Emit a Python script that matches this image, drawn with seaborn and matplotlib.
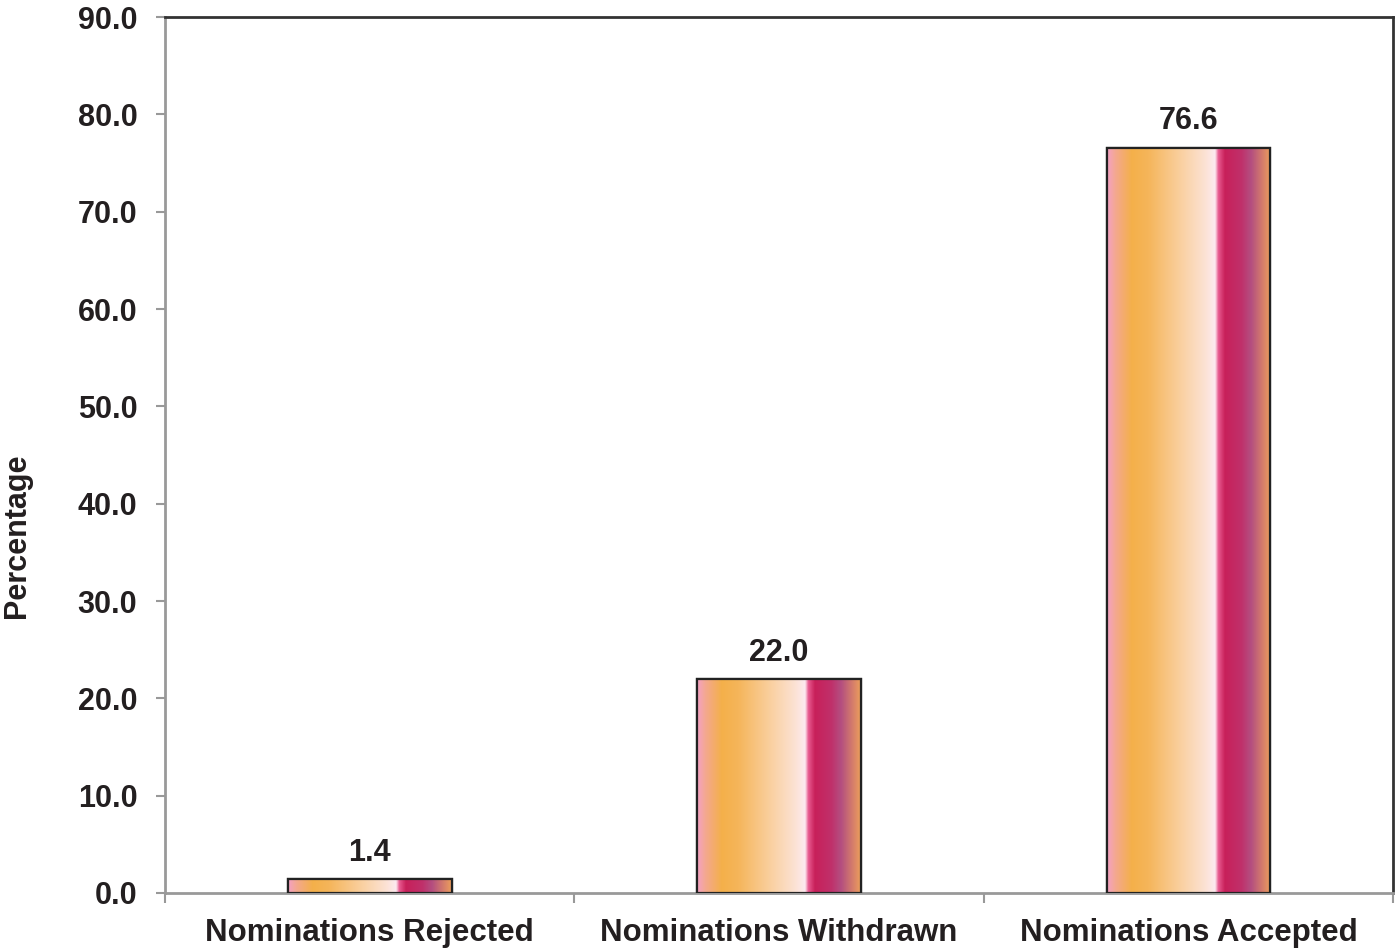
import matplotlib
matplotlib.use('Agg')
import matplotlib.pyplot as plt
import seaborn as sns
import pandas as pd
import numpy as np
from matplotlib.colors import LinearSegmentedColormap

# data
categories = ['Nominations Rejected', 'Nominations Withdrawn', 'Nominations Accepted']
values = [1.4, 22.0, 76.6]

sns.set_style('white')
plt.rcParams['font.family'] = ['Liberation Sans', 'DejaVu Sans']
plt.rcParams['font.weight'] = 'bold'

df = pd.DataFrame({'Category': categories, 'Percentage': values})

fig = plt.figure(figsize=(13.95, 9.51), dpi=100)
ax = fig.add_axes([0.1183, 0.061, 0.8803, 0.921])

sns.barplot(data=df, x='Category', y='Percentage', color='#F4B04A', width=0.4,
            edgecolor='#222222', linewidth=1.6, ax=ax, zorder=3)

# gradient fill like the original
stops = [(0.0, '#F4A0C4'), (0.05, '#F3A890'), (0.15, '#F4B04A'), (0.25, '#F5B55A'),
         (0.45, '#FAD0A0'), (0.6, '#FCE2D4'), (0.66, '#FDEAF0'), (0.68, '#E85A90'),
         (0.72, '#C8205A'), (0.82, '#C0306A'), (0.88, '#B44E80'), (1.0, '#EC9E5C')]
cmap = LinearSegmentedColormap.from_list('barfill', stops)
grad = np.linspace(0, 1, 256).reshape(1, -1)
for p in ax.patches:
    x0, y0 = p.get_x(), p.get_y()
    w, h = p.get_width(), p.get_height()
    im = ax.imshow(grad, cmap=cmap, aspect='auto', extent=(x0, x0 + w, y0, y0 + h),
                   zorder=3.5, interpolation='bilinear')
    im.set_clip_path(p)
    edge = plt.Rectangle((x0, y0), w, h, fill=False, edgecolor='#222222', linewidth=1.6, zorder=4)
    ax.add_patch(edge)

ax.bar_label(ax.containers[0], labels=[f'{v:.1f}' for v in values], padding=8,
             fontsize=22, fontweight='bold', color='#231F20')

ax.set_xlim(-0.5, 2.5)
ax.set_ylim(0, 90)
ax.set_yticks(np.arange(0, 91, 10))
ax.set_yticklabels([f'{t:.1f}' for t in np.arange(0, 91, 10)], fontsize=22, fontweight='bold', color='#231F20')
ax.set_xticks([-0.5, 0.5, 1.5, 2.5])
ax.set_xticklabels([])
ax.set_xticks([0, 1, 2], minor=True)
ax.set_xticklabels(categories, minor=True, fontsize=22.5, fontweight='bold', color='#231F20')
ax.tick_params(axis='x', which='minor', bottom=False, length=0, pad=18)
ax.tick_params(axis='x', which='major', bottom=True, direction='out', length=7, width=1.5, color='#999999')
ax.tick_params(axis='y', left=True, direction='out', length=6.5, width=1.5, color='#999999', pad=13.5)
ax.set_xlabel('')
ax.set_ylabel('Percentage', fontsize=22, fontweight='bold', color='#231F20')
ax.yaxis.set_label_coords(-0.108, 0.408)

for s in ['left', 'bottom']:
    ax.spines[s].set_color('#999999')
    ax.spines[s].set_linewidth(2)
for s in ['top', 'right']:
    ax.spines[s].set_color('#333333')
    ax.spines[s].set_linewidth(2)

fig.savefig('out.png', dpi=100)
